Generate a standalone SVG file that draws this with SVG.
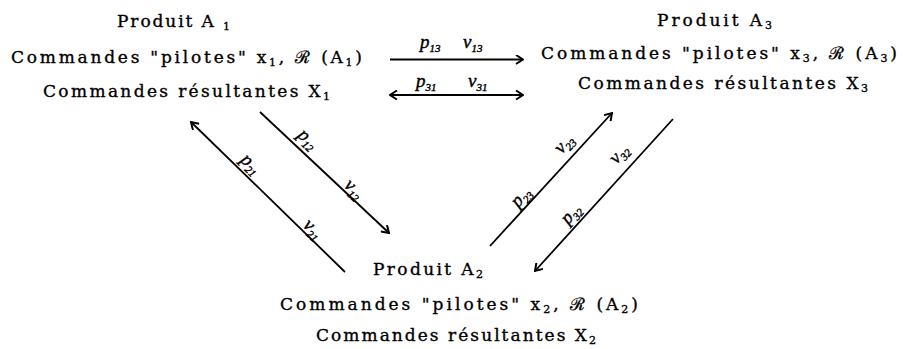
<svg xmlns="http://www.w3.org/2000/svg" width="904" height="349" viewBox="0 0 904 349">
<style>
.t{font-family:"DejaVu Serif","Liberation Serif",serif;font-size:17px;fill:#000;stroke:#000;stroke-width:0.35}
.s{font-size:11px}
.l{font-family:"Liberation Serif","DejaVu Serif",serif;font-style:italic;font-size:19px;fill:#000;stroke:#000;stroke-width:0.4}
.c{stroke:#000;stroke-width:1.8;fill:none}
</style>
<defs>
<marker id="ah" viewBox="0 0 10 10" refX="9" refY="5" markerWidth="10" markerHeight="10" markerUnits="userSpaceOnUse" orient="auto-start-reverse">
<path d="M2,0.5 L9,5 L2,9.5" fill="none" stroke="#000" stroke-width="2"/>
</marker>
</defs>
<rect width="904" height="349" fill="#fff"/>
<g id="A1">
<text class="t" x="117" y="27" textLength="113" lengthAdjust="spacing">Produit A <tspan class="s" dy="3">1</tspan></text>
<text class="t" x="11" y="62.5" textLength="351" lengthAdjust="spacing">Commandes "pilotes" x<tspan class="s" dy="3">1</tspan><tspan dy="-3">, ℛ (A</tspan><tspan class="s" dy="3">1</tspan><tspan dy="-3">)</tspan></text>
<text class="t" x="43" y="97" textLength="287" lengthAdjust="spacing">Commandes résultantes X<tspan class="s" dy="3">1</tspan></text>
</g>
<g id="A3">
<text class="t" x="657" y="26" textLength="115" lengthAdjust="spacing">Produit A<tspan class="s" dy="3">3</tspan></text>
<text class="t" x="541" y="59" textLength="356" lengthAdjust="spacing">Commandes "pilotes" x<tspan class="s" dy="3">3</tspan><tspan dy="-3">, ℛ (A</tspan><tspan class="s" dy="3">3</tspan><tspan dy="-3">)</tspan></text>
<text class="t" x="578" y="89" textLength="290" lengthAdjust="spacing">Commandes résultantes X<tspan class="s" dy="3">3</tspan></text>
</g>
<g id="A2">
<text class="t" x="373" y="275" textLength="110" lengthAdjust="spacing">Produit A<tspan class="s" dy="3">2</tspan></text>
<text class="t" x="280" y="310" textLength="358" lengthAdjust="spacing">Commandes "pilotes" x<tspan class="s" dy="3">2</tspan><tspan dy="-3">, ℛ (A</tspan><tspan class="s" dy="3">2</tspan><tspan dy="-3">)</tspan></text>
<text class="t" x="316" y="341" textLength="280" lengthAdjust="spacing">Commandes résultantes X<tspan class="s" dy="3">2</tspan></text>
</g>
<g id="connectors">
<line class="c" x1="390" y1="59.5" x2="523" y2="59.5" marker-end="url(#ah)"/>
<line class="c" x1="390" y1="95" x2="523" y2="95" marker-start="url(#ah)" marker-end="url(#ah)"/>
<line class="c" x1="260" y1="112" x2="389" y2="233" marker-end="url(#ah)"/>
<line class="c" x1="345" y1="272" x2="191" y2="122" marker-end="url(#ah)"/>
<line class="c" x1="490" y1="246" x2="612" y2="113" marker-end="url(#ah)"/>
<line class="c" x1="673" y1="119" x2="535" y2="271" marker-end="url(#ah)"/>
</g>
<g id="labels">
<text class="l" x="420" y="48">p<tspan class="s" dy="4">13</tspan></text>
<text class="l" x="463" y="48">ν<tspan class="s" dy="4">13</tspan></text>
<text class="l" x="416" y="87">p<tspan class="s" dy="4">31</tspan></text>
<text class="l" x="468" y="87">ν<tspan class="s" dy="4">31</tspan></text>
<text class="l" text-anchor="middle" transform="translate(307,140) rotate(43.2)" y="4">p<tspan class="s" dy="4">12</tspan></text>
<text class="l" text-anchor="middle" transform="translate(353,190) rotate(43.2)" y="4">ν<tspan class="s" dy="4">12</tspan></text>
<text class="l" text-anchor="middle" transform="translate(250,165) rotate(44.2)" y="4">p<tspan class="s" dy="4">21</tspan></text>
<text class="l" text-anchor="middle" transform="translate(312,230) rotate(44.2)" y="4">ν<tspan class="s" dy="4">21</tspan></text>
<text class="l" text-anchor="middle" transform="translate(565,145) rotate(-47.5)" y="4">ν<tspan class="s" dy="4">23</tspan></text>
<text class="l" text-anchor="middle" transform="translate(522,198) rotate(-47.5)" y="4">p<tspan class="s" dy="4">23</tspan></text>
<text class="l" text-anchor="middle" transform="translate(620,155) rotate(-47.8)" y="4">ν<tspan class="s" dy="4">32</tspan></text>
<text class="l" text-anchor="middle" transform="translate(572,215) rotate(-47.8)" y="4">p<tspan class="s" dy="4">32</tspan></text>
</g>
</svg>
